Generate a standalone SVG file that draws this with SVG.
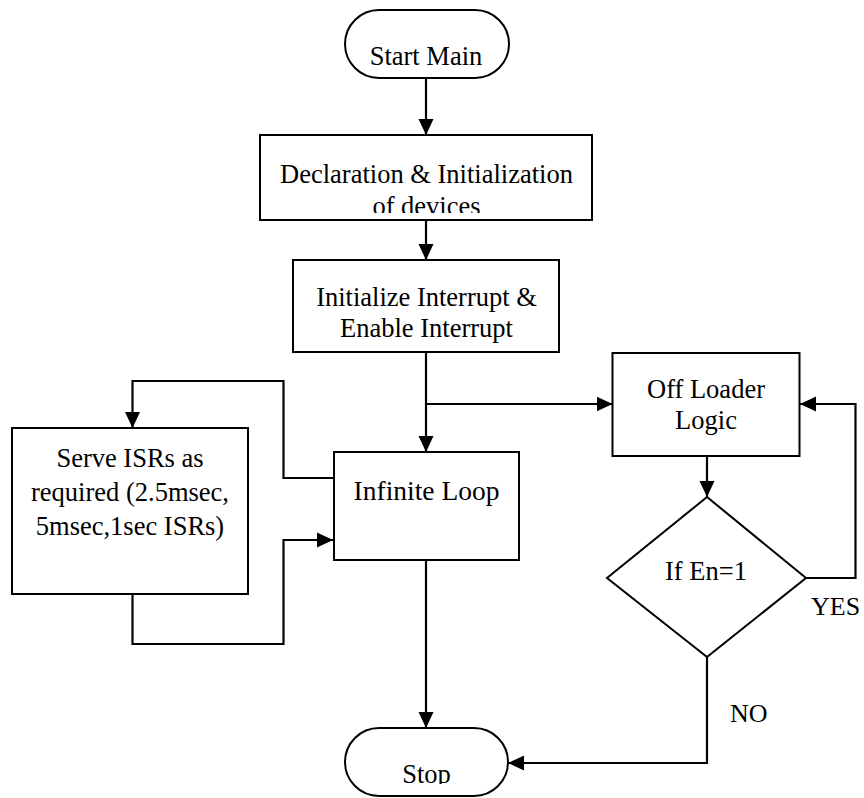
<svg xmlns="http://www.w3.org/2000/svg" width="864" height="798" viewBox="0 0 864 798">
  <style>
    .box { fill: #fff; stroke: #000; stroke-width: 2; }
    text { font-family: 'Liberation Serif', 'Times New Roman', Times, 'DejaVu Serif', serif; fill: #000; }
    .lbl { font-size: 26.5px; text-anchor: middle; }
    .side { font-size: 26px; }
    .arrow { fill: none; stroke: #000; stroke-width: 2.2; marker-end: url(#head); }
  </style>
  <defs>
    <marker id="head" viewBox="0 0 16 16" refX="16" refY="8" markerWidth="16" markerHeight="16" orient="auto" markerUnits="userSpaceOnUse">
      <path d="M0,0.5 L16,8 L0,15.5 Z" fill="#000"/>
    </marker>
    <clipPath id="declClip"><rect x="260" y="135" width="332" height="78"/></clipPath>
    <clipPath id="stopClip"><rect x="345" y="728" width="163" height="56"/></clipPath>
  </defs>

  <rect width="864" height="798" fill="#fff"/>

  <!-- connectors -->
  <g id="connectors">
    <line class="arrow" x1="426" y1="78" x2="426" y2="135"/>
    <line class="arrow" x1="426" y1="220" x2="426" y2="260"/>
    <line class="arrow" x1="426" y1="352" x2="426" y2="452"/>
    <line class="arrow" x1="426" y1="404" x2="612.5" y2="404"/>
    <line class="arrow" x1="426" y1="560" x2="426" y2="728"/>
    <!-- Infinite Loop -> Serve ISRs -->
    <polyline class="arrow" points="334,478 283.5,478 283.5,381 132.5,381 132.5,428"/>
    <!-- Serve ISRs -> Infinite Loop -->
    <polyline class="arrow" points="132.5,594 132.5,644 283.5,644 283.5,540 333,540"/>
    <!-- Off Loader -> decision -->
    <line class="arrow" x1="707" y1="456" x2="707" y2="497"/>
    <!-- YES branch back to Off Loader -->
    <polyline class="arrow" points="806,578 855.5,578 855.5,404 800,404"/>
    <!-- NO branch to Stop -->
    <polyline class="arrow" points="707,657 707,763 508,763"/>
  </g>

  <g id="start">
    <rect class="box" x="345" y="10" width="164" height="68" rx="34" ry="34"/>
    <text class="lbl" x="426" y="65">Start Main</text>
  </g>

  <g id="declaration">
    <rect class="box" x="260" y="135" width="332" height="85"/>
    <g clip-path="url(#declClip)">
      <text class="lbl" x="426.5" y="183">Declaration &amp; Initialization</text>
      <text class="lbl" x="426.5" y="215">of devices</text>
    </g>
  </g>

  <g id="init-interrupt">
    <rect class="box" x="293" y="260" width="266" height="92"/>
    <text class="lbl" x="426.5" y="306">Initialize Interrupt &amp;</text>
    <text class="lbl" x="426.5" y="337">Enable Interrupt</text>
  </g>

  <g id="infinite-loop">
    <rect class="box" x="334" y="452" width="185" height="108"/>
    <text class="lbl" x="426.5" y="500" style="font-size:27.5px">Infinite Loop</text>
  </g>

  <g id="serve-isr">
    <rect class="box" x="12" y="428" width="236" height="166"/>
    <text class="lbl" x="130" y="467">Serve ISRs as</text>
    <text class="lbl" x="130" y="501">required (2.5msec,</text>
    <text class="lbl" x="130" y="535">5msec,1sec ISRs)</text>
  </g>

  <g id="off-loader">
    <rect class="box" x="612.5" y="353" width="187" height="103"/>
    <text class="lbl" x="706" y="398">Off Loader</text>
    <text class="lbl" x="706" y="429">Logic</text>
  </g>

  <g id="decision">
    <polygon class="box" points="707,497 806,578 707,657 607,578"/>
    <text class="lbl" x="706" y="580">If En=1</text>
  </g>

  <g id="stop">
    <rect class="box" x="345" y="728" width="163" height="68" rx="34" ry="34"/>
    <text class="lbl" x="426.5" y="783" clip-path="url(#stopClip)">Stop</text>
  </g>

  <text class="side" x="811" y="615">YES</text>
  <text class="side" x="730" y="722">NO</text>
</svg>
